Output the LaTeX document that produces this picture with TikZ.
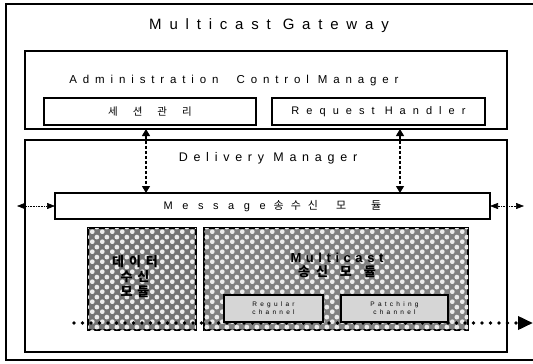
\documentclass[tikz,border=0pt]{standalone}
\usepackage{fontspec}
\setmainfont{Liberation Sans}
\newfontfamily\wide{Liberation Sans}[LetterSpace=50]
\newfontfamily\kr{Noto Sans CJK KR}
\usetikzlibrary{positioning, arrows.meta, patterns}

% white blobs on a grey ground
\pgfdeclarepatternformonly{softdots}{\pgfqpoint{0pt}{0pt}}{\pgfqpoint{10pt}{10pt}}{\pgfqpoint{10pt}{10pt}}{%
  \pgfpathcircle{\pgfqpoint{2.5pt}{2.5pt}}{2.6pt}
  \pgfpathcircle{\pgfqpoint{7.5pt}{7.5pt}}{2.6pt}
  \pgfusepath{fill}}

\begin{document}
\begin{tikzpicture}[x=1pt, y=-1pt,
    every node/.style={inner sep=0pt, outer sep=0pt},
    frame/.style={draw, line width=1.5pt},
    subbox/.style={draw, line width=1.5pt, fill=white},
    module/.style={draw, line width=1.8pt, postaction={pattern=softdots, pattern color=white!92!black}},
    channel/.style={draw, line width=2pt, fill=black!16, align=center,
      font=\wide\fontsize{6.5}{8}\selectfont},
    updown/.style={densely dashed, line width=1.1pt,
      {Triangle[length=7pt,width=8pt]}-{Triangle[length=7pt,width=8pt]}},
    sidearrow/.style={densely dotted, line width=0.6pt,
      {Triangle[length=8pt,width=6pt]}-{Triangle[length=8pt,width=6pt]}},
    flow/.style={line width=3.6pt, line cap=round, dash pattern=on 0pt off 8.5pt,
      -{Triangle[length=15pt,width=13pt]}}
  ]
  \useasboundingbox (0,0) rectangle (533,364);

  % outer frame, cut at the right edge
  \begin{scope}
    \clip (0,0) rectangle (533,364);
    \node[frame, minimum width=534, minimum height=356] (gateway) at (273,182) {};
  \end{scope}
  \node[font=\wide\fontsize{15}{17}\selectfont\addfontfeature{LetterSpace=52}] (gateway title) at (269,26) {Multicast Gateway};

  % administration part
  \node[frame, minimum width=482, minimum height=78] (admin) at (266,90) {};
  \node[font=\wide\fontsize{11.5}{13}\selectfont\addfontfeature{LetterSpace=51}] (admin title) at (234,81) {Administration\ \ Control Manager};
  \node[subbox, minimum width=212, minimum height=27, font=\kr\fontsize{10.5}{12}\selectfont] (session) at (150,111.5)
    {세\hspace{15pt}션\hspace{15pt}관\hspace{15pt}리};
  \node[subbox, minimum width=213, minimum height=27, font=\wide\fontsize{11}{12}\selectfont\addfontfeature{LetterSpace=64}] (request) at (378.5,111.5) {Request Handler};

  % delivery part
  \node[frame, minimum width=482, minimum height=212] (delivery) at (266,246) {};
  \node[font=\wide\fontsize{12.5}{14}\selectfont\addfontfeature{LetterSpace=46}] (delivery title) at (268,158) {Delivery Manager};
  \node[subbox, minimum width=435, minimum height=26, font=\fontsize{11}{13}\selectfont] (message) at (272.5,206)
    {{\wide\addfontfeature{LetterSpace=87}Message}\hspace{8pt}{\kr 송\hspace{7pt}수\hspace{7pt}신\hspace{18pt}모\hspace{25pt}듈}};

  \node[module, fill=black!55, minimum width=108, minimum height=102] (receiver) at (142,279) {};
  \node[align=center, font=\kr\bfseries\fontsize{13}{15}\selectfont] (receiver text) at (135,277)
    {데\hspace{5pt}이\hspace{5pt}터\\수\hspace{5pt}신\\모\hspace{5pt}듈};
  \node[module, fill=black!50, minimum width=264, minimum height=102] (sender) at (336,279) {};
  \node[align=center, font=\bfseries\fontsize{13}{14}\selectfont] (sender text) at (337,265)
    {{\wide\addfontfeature{LetterSpace=35}Multicast}\\{\kr 송\hspace{6pt}신\hspace{12pt}모\hspace{12pt}듈}};
  \node[channel, minimum width=99, minimum height=27] (regular) at (273.5,308.5) {Regular\\channel};
  \node[channel, minimum width=107, minimum height=27] (patching) at (394.5,308.5) {Patching\\channel};

  % connectors
  \coordinate (lane a) at (146,0);
  \coordinate (lane b) at (400,0);
  \draw[updown] (admin.south -| lane a) -- (message.north -| lane a);
  \draw[updown] (admin.south -| lane b) -- (message.north -| lane b);

  \coordinate (west end) at (17,206);
  \coordinate (east end) at (524,206);
  \draw[sidearrow] (west end) -- (message.west);
  \draw[sidearrow] (message.east) -- (east end);

  \coordinate (flow start) at (74,323);
  \coordinate (flow end) at (533,323);
  \draw[flow] (flow start) -- (flow end);
\end{tikzpicture}
\end{document}
